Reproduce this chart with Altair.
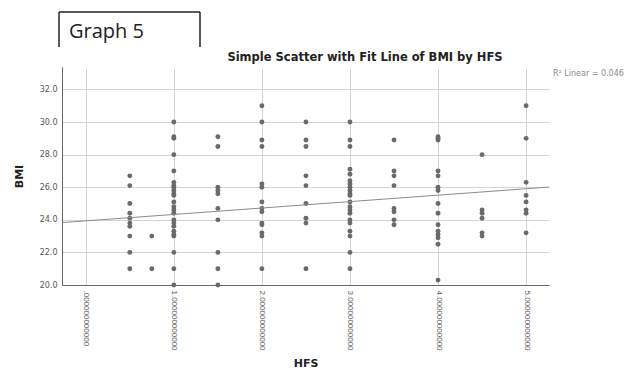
import json
import altair as alt
import pandas as pd

# HFS levels and the BMI observations recorded at each level
hfs_levels = [0.5, 0.75, 1.0, 1.5, 2.0, 2.5, 3.0, 3.5, 4.0, 4.5, 5.0]

bmi_hfs_0_5 = [26.7, 26.1, 25.0, 24.4, 24.1, 23.8, 23.6, 23.0, 22.0, 21.0]
bmi_hfs_0_75 = [23.0, 21.0]
bmi_hfs_1_0 = [30.0, 29.1, 29.0, 28.0, 27.0, 26.3, 26.1, 26.0, 25.8, 25.6, 25.5,
               25.1, 24.8, 24.6, 24.4, 24.0, 23.8, 23.6, 23.3, 23.1, 23.0, 22.0,
               21.0, 20.0]
bmi_hfs_1_5 = [29.1, 28.5, 26.0, 25.8, 25.6, 24.7, 24.0, 22.0, 21.0, 20.0]
bmi_hfs_2_0 = [31.0, 30.0, 28.9, 28.5, 26.2, 26.0, 25.1, 24.7, 24.5, 23.8, 23.7,
               23.2, 23.0, 21.0]
bmi_hfs_2_5 = [30.0, 28.9, 28.5, 26.7, 26.1, 25.0, 24.1, 23.8, 21.0]
bmi_hfs_3_0 = [30.0, 28.9, 28.5, 27.1, 26.8, 26.4, 26.2, 26.0, 25.8, 25.6, 25.5,
               25.1, 24.8, 24.6, 24.4, 24.0, 23.8, 23.3, 23.0, 22.0, 21.0]
bmi_hfs_3_5 = [28.9, 27.0, 26.7, 26.1, 24.7, 24.5, 24.0, 23.7]
bmi_hfs_4_0 = [29.1, 29.0, 28.9, 27.0, 26.7, 26.0, 25.8, 25.0, 24.4, 23.7, 23.3,
               23.1, 22.9, 22.5, 20.3]
bmi_hfs_4_5 = [28.0, 24.6, 24.4, 24.1, 23.2, 23.0]
bmi_hfs_5_0 = [31.0, 29.0, 26.3, 25.5, 25.1, 24.6, 24.4, 23.2]

# Linear fit line (R² = 0.046), given by its end points across the x range
fit_hfs = [-0.27, 5.26]
fit_bmi = [23.83, 26.01]

x_tick_values = [0, 1, 2, 3, 4, 5]
x_tick_labels = [".000000000000", "1.000000000000", "2.000000000000",
                 "3.000000000000", "4.000000000000", "5.000000000000"]
y_tick_values = [20, 22, 24, 26, 28, 30, 32]

chart_title = "Simple Scatter with Fit Line of BMI by HFS"
r2_note = "R\u00b2 Linear = 0.046"
panel_label = "Graph 5"

columns = [bmi_hfs_0_5, bmi_hfs_0_75, bmi_hfs_1_0, bmi_hfs_1_5, bmi_hfs_2_0,
           bmi_hfs_2_5, bmi_hfs_3_0, bmi_hfs_3_5, bmi_hfs_4_0, bmi_hfs_4_5,
           bmi_hfs_5_0]
rows = [{"HFS": h, "BMI": b} for h, col in zip(hfs_levels, columns) for b in col]
df = pd.DataFrame(rows)
fit_df = pd.DataFrame({"HFS": fit_hfs, "BMI": fit_bmi})

X_DOMAIN = [-0.27, 5.26]
Y_DOMAIN = [20, 33.38]
FONT = "DejaVu Sans"

label_expr = "{}[round(datum.value)]".format(json.dumps(x_tick_labels))

x_enc = alt.X(
    "HFS:Q",
    scale=alt.Scale(domain=X_DOMAIN, nice=False, zero=False),
    axis=alt.Axis(
        values=x_tick_values, labelExpr=label_expr, labelAngle=90,
        labelOverlap=False, labelFontSize=8, labelColor="#555555",
        labelFont="Liberation Sans", labelPadding=5, ticks=False,
        domainColor="#666666", gridColor="#d4d4d4", title="HFS",
        titleFont=FONT, titleFontSize=11, titleFontWeight="bold",
        titleColor="#222222", titleY=78, titleBaseline="middle",
    ),
)
y_enc = alt.Y(
    "BMI:Q",
    scale=alt.Scale(domain=Y_DOMAIN, nice=False, zero=False),
    axis=alt.Axis(
        values=y_tick_values, format=".1f", labelOverlap=False,
        labelFontSize=8, labelColor="#555555", labelFont=FONT,
        labelPadding=5, ticks=False, domainColor="#666666",
        gridColor="#d4d4d4", title="BMI", titleFont=FONT, titleFontSize=11,
        titleFontWeight="bold", titleColor="#222222", titleX=-43,
        titleY=109, titleAngle=-90, titleAlign="center",
        titleBaseline="middle",
    ),
)

points = alt.Chart(df).mark_circle(size=24, color="#6a6a6a", opacity=1).encode(
    x=x_enc, y=y_enc)

fit = alt.Chart(fit_df).mark_line(color="#8c8c8c", strokeWidth=1).encode(
    x=x_enc, y=y_enc)

texts = pd.DataFrame({"title": [chart_title], "note": [r2_note], "panel": [panel_label]})
tbase = alt.Chart(texts)

title_mark = tbase.mark_text(
    font=FONT, fontSize=11.5, fontWeight="bold", color="#222222",
    align="center", baseline="middle",
).encode(text="title:N", x=alt.value(303), y=alt.value(-9))

note_mark = tbase.mark_text(
    font=FONT, fontSize=8, color="#8a8a8a", align="left", baseline="middle",
).encode(text="note:N", x=alt.value(491), y=alt.value(7))

panel_mark = tbase.mark_text(
    font="Open Sans", fontSize=20, color="#222222", align="left", baseline="middle",
).encode(text="panel:N", x=alt.value(7), y=alt.value(-35))

box_left = tbase.mark_rule(color="#222222", strokeWidth=1.5).encode(
    x=alt.value(-3), y=alt.value(-55), y2=alt.value(-20))
box_right = tbase.mark_rule(color="#222222", strokeWidth=1.5).encode(
    x=alt.value(138), y=alt.value(-55), y2=alt.value(-20))
box_top = tbase.mark_rule(color="#222222", strokeWidth=1.5).encode(
    x=alt.value(-3), x2=alt.value(138), y=alt.value(-55))

chart = alt.layer(
    points, fit, title_mark, note_mark, panel_mark, box_left, box_right, box_top
).properties(
    width=487, height=218, autosize="none",
    padding={"left": 62, "top": 67, "right": 81, "bottom": 87},
    background="white",
).configure_view(stroke=None)

chart.save("out.html", embed_options={"renderer": "svg", "actions": False})
